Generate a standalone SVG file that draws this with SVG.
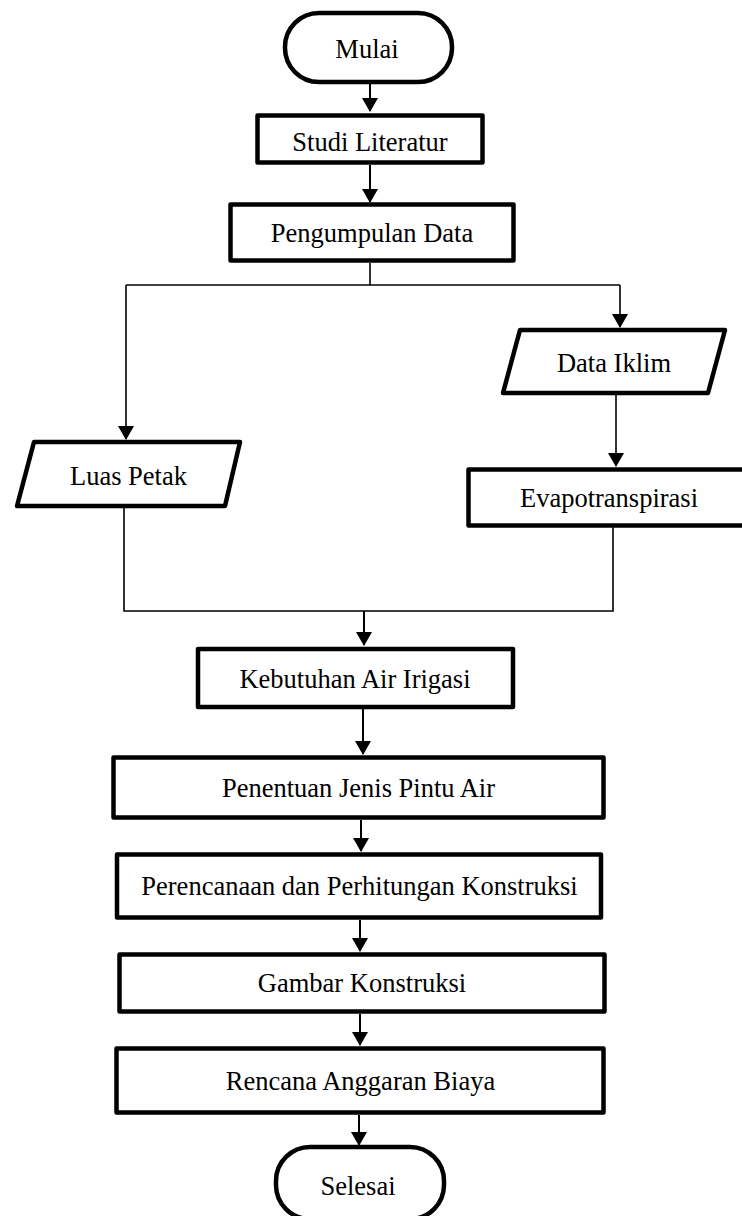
<svg xmlns="http://www.w3.org/2000/svg" width="742" height="1216" viewBox="0 0 742 1216">
<style>
.box{fill:#fff;stroke:#000;stroke-width:4.5;stroke-linejoin:round}
.lbl{font-family:"Liberation Serif","Times New Roman",serif;font-size:26.5px;fill:#000;text-anchor:middle}
.arr{fill:none;stroke:#000;stroke-width:2}
.ln{fill:none;stroke:#000;stroke-width:1.6}
</style>
<defs>
<marker id="ah" markerUnits="userSpaceOnUse" viewBox="0 0 14 16" markerWidth="14" markerHeight="16" refX="13" refY="8" orient="auto">
<path d="M0,0 L14,8 L0,16 z" fill="#000"/>
</marker>
</defs>
<rect width="742" height="1216" fill="#fff"/>
<g id="connectors">
<line class="arr" x1="370" y1="84" x2="370" y2="111" marker-end="url(#ah)"/>
<line class="arr" x1="370" y1="165" x2="370" y2="202" marker-end="url(#ah)"/>
<polyline class="ln" points="370,263 370,285"/>
<polyline class="ln" points="126,285 620,285"/>
<line class="ln" x1="126" y1="285" x2="126" y2="439" marker-end="url(#ah)"/>
<line class="ln" x1="620" y1="285" x2="620" y2="327" marker-end="url(#ah)"/>
<line class="ln" x1="616" y1="395" x2="616" y2="466" marker-end="url(#ah)"/>
<polyline class="ln" points="124,508 124,611 613,611 613,527"/>
<line class="arr" x1="364" y1="611" x2="364" y2="645" marker-end="url(#ah)"/>
<line class="arr" x1="363" y1="709" x2="363" y2="754" marker-end="url(#ah)"/>
<line class="arr" x1="361" y1="820" x2="361" y2="851" marker-end="url(#ah)"/>
<line class="arr" x1="360" y1="920" x2="360" y2="951" marker-end="url(#ah)"/>
<line class="arr" x1="360" y1="1014" x2="360" y2="1045" marker-end="url(#ah)"/>
<line class="arr" x1="359" y1="1115" x2="359" y2="1145" marker-end="url(#ah)"/>
</g>
<g id="mulai">
<rect class="box" x="285" y="13" width="167" height="69" rx="34" ry="34"/>
<text class="lbl" x="367" y="58">Mulai</text>
</g>
<g id="studi-literatur">
<rect class="box" x="257.5" y="115.5" width="225" height="47"/>
<text class="lbl" x="370" y="151">Studi Literatur</text>
</g>
<g id="pengumpulan-data">
<rect class="box" x="230.5" y="204.5" width="283" height="56"/>
<text class="lbl" x="372" y="242">Pengumpulan Data</text>
</g>
<g id="data-iklim">
<polygon class="box" points="520,330 725,330 708,393 503,393"/>
<text class="lbl" x="614" y="372">Data Iklim</text>
</g>
<g id="luas-petak">
<polygon class="box" points="34,442 240,442 225,506 17,506"/>
<text class="lbl" x="128.5" y="485">Luas Petak</text>
</g>
<g id="evapotranspirasi">
<rect class="box" x="468.5" y="469.5" width="284" height="56"/>
<text class="lbl" x="609" y="507">Evapotranspirasi</text>
</g>
<g id="kebutuhan-air-irigasi">
<rect class="box" x="198" y="649" width="315" height="58"/>
<text class="lbl" x="355" y="688">Kebutuhan Air Irigasi</text>
</g>
<g id="penentuan-jenis-pintu-air">
<rect class="box" x="113.5" y="757.5" width="490" height="60"/>
<text class="lbl" x="358.5" y="797">Penentuan Jenis Pintu Air</text>
</g>
<g id="perencanaan">
<rect class="box" x="117" y="854.5" width="484" height="63"/>
<text class="lbl" x="359.5" y="895">Perencanaan dan Perhitungan Konstruksi</text>
</g>
<g id="gambar-konstruksi">
<rect class="box" x="119.5" y="954.5" width="485" height="57"/>
<text class="lbl" x="362" y="992">Gambar Konstruksi</text>
</g>
<g id="rencana-anggaran-biaya">
<rect class="box" x="116.5" y="1048.5" width="487" height="64"/>
<text class="lbl" x="360.5" y="1090">Rencana Anggaran Biaya</text>
</g>
<g id="selesai">
<rect class="box" x="276" y="1147" width="168" height="72" rx="34" ry="34"/>
<text class="lbl" x="358" y="1195">Selesai</text>
</g>
</svg>
